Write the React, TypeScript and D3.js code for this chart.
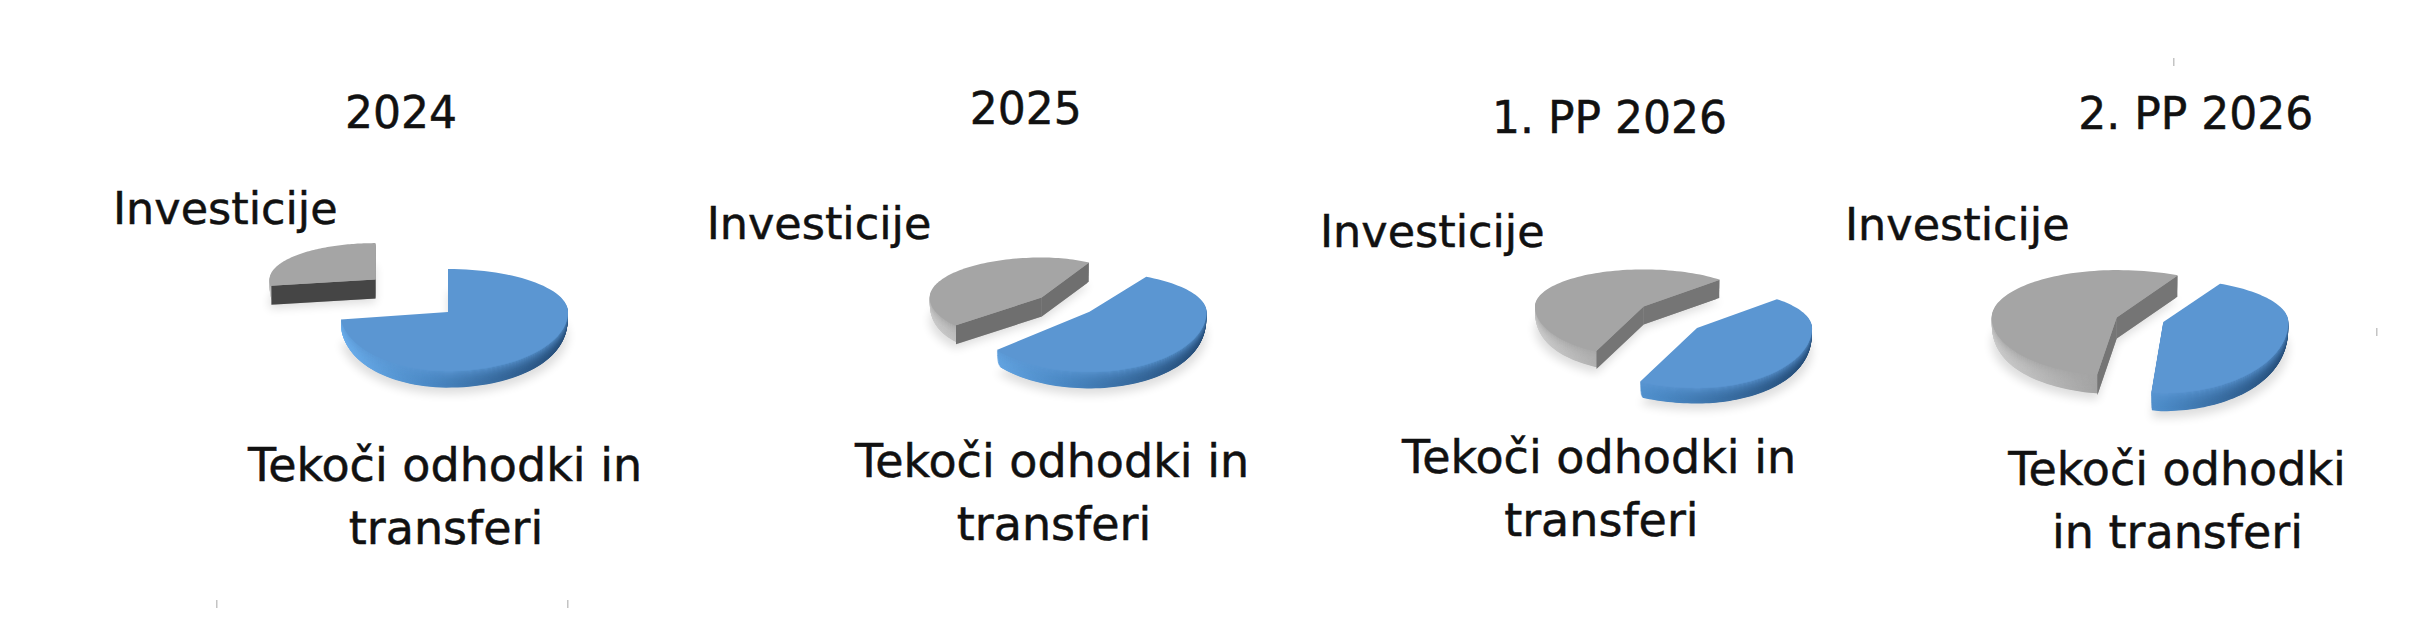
import React, { useEffect, useRef } from 'react';
import * as d3 from 'd3';

// Values (share of the budget, percent)
const years = ['2024', '2025', '1. PP 2026', '2. PP 2026'];
const categories = ['Tekoči odhodki in transferi', 'Investicije'];
const tekoci = [73, 56, 45, 45];
const investicije = [27, 44, 55, 55];

const WIDTH = 2418;
const HEIGHT = 639;
const FONT = '"DejaVu Sans", sans-serif';
const FONT_SIZE = 44;
const LABEL_SIZE = 46;

interface SliceGeom {
  cx: number;
  cy: number;
  rxL: number;
  rxR: number;
  ryBack: number;
  ryFront: number;
}

interface PieLayout {
  rotation: number;
  depth: number;
  cutColor: string;
  blue: SliceGeom;
  gray: SliceGeom;
  title: [number, number];
  inv: [number, number];
  lines: string[];
  lineX: number[];
  lineY: number[];
}

// Hand placed, one block per pie: the slices are pulled apart in the original
const layouts: PieLayout[] = [
  {
    rotation: 0,
    depth: 19,
    cutColor: '#454545',
    blue: { cx: 448, cy: 312, rxL: 108, rxR: 120, ryBack: 43, ryFront: 59 },
    gray: { cx: 375.5, cy: 279.6, rxL: 106, rxR: 100, ryBack: 36.5, ryFront: 50 },
    title: [401, 128],
    inv: [113, 223.6],
    lines: ['Tekoči odhodki in', 'transferi'],
    lineX: [445, 446],
    lineY: [481, 544],
  },
  {
    rotation: 29,
    depth: 19,
    cutColor: '#6f6f6f',
    blue: { cx: 1089.5, cy: 311.8, rxL: 120, rxR: 117, ryBack: 40, ryFront: 60 },
    gray: { cx: 1041.7, cy: 297.5, rxL: 112, rxR: 98, ryBack: 40, ryFront: 44 },
    title: [1025.8, 124],
    inv: [706.7, 238.6],
    lines: ['Tekoči odhodki in', 'transferi'],
    lineX: [1052, 1054],
    lineY: [476.8, 539.6],
  },
  {
    rotation: 44,
    depth: 18,
    cutColor: '#757575',
    blue: { cx: 1697, cy: 327.9, rxL: 130, rxR: 115, ryBack: 40, ryFront: 60 },
    gray: { cx: 1643.6, cy: 306.4, rxL: 108.6, rxR: 110, ryBack: 37, ryFront: 50 },
    title: [1609.6, 133],
    inv: [1320, 246.8],
    lines: ['Tekoči odhodki in', 'transferi'],
    lineX: [1599, 1601.4],
    lineY: [472.5, 535.7],
  },
  {
    rotation: 27,
    depth: 21,
    cutColor: '#757575',
    blue: { cx: 2163.3, cy: 322, rxL: 76, rxR: 125, ryBack: 43, ryFront: 71 },
    gray: { cx: 2116.7, cy: 317.5, rxL: 125, rxR: 135, ryBack: 47.4, ryFront: 58 },
    title: [2195.7, 128.8],
    inv: [1845, 239.8],
    lines: ['Tekoči odhodki', 'in transferi'],
    lineX: [2177, 2177.5],
    lineY: [484.7, 547.6],
  },
];

// Small scan marks left in the source image
const specks: [number, number][] = [[216, 600], [567, 600], [2173, 58], [2376, 328]];

const faceColors = { blue: '#5b96d2', gray: '#a5a5a5' };
const rimStops = {
  blue: ['#6db0ee', '#4a88c4', '#234a75'],
  gray: ['#cdcdcd', '#a4a4a4', '#767676'],
};

const project = (g: SliceGeom, a: number, r = 1): [number, number] => {
  const s = Math.sin(a);
  const c = Math.cos(a);
  return [
    g.cx + (s >= 0 ? g.rxR : g.rxL) * s * r,
    g.cy - (c >= 0 ? g.ryBack : g.ryFront) * c * r,
  ];
};

const line = d3.line<[number, number]>();

const slicePath = (g: SliceGeom, a0: number, a1: number, r = 1) => {
  const n = 90;
  const rim = d3.range(n + 1).map(i => project(g, a0 + ((a1 - a0) * i) / n, r));
  return line([[g.cx, g.cy], ...rim]) + 'Z';
};

const App: React.FC = () => {
  const ref = useRef<SVGSVGElement>(null);

  useEffect(() => {
    if (!ref.current) return;
    const svg = d3.select(ref.current);
    svg.selectAll('*').remove();

    const defs = svg.append('defs');
    defs.append('filter').attr('id', 'soft')
      .attr('x', '-20%').attr('y', '-20%').attr('width', '140%').attr('height', '140%')
      .append('feGaussianBlur').attr('stdDeviation', 5);

    years.forEach((year, p) => {
      const lay = layouts[p];
      const pie = d3.pie<number>().sort(null)
        .startAngle((lay.rotation * Math.PI) / 180)
        .endAngle(((lay.rotation + 360) * Math.PI) / 180);
      const arcs = pie([tekoci[p], investicije[p]]);

      (['blue', 'gray'] as const).forEach((key, i) => {
        const g = lay[key];
        const { startAngle: a0, endAngle: a1 } = arcs[i];
        const group = svg.append('g').attr('class', `slice-${key}`);

        // Rim gradient runs left to right across the slice
        const gradId = `rim-${p}-${key}`;
        const grad = defs.append('linearGradient').attr('id', gradId)
          .attr('gradientUnits', 'userSpaceOnUse')
          .attr('x1', g.cx - g.rxL).attr('x2', g.cx + g.rxR)
          .attr('y1', 0).attr('y2', 0);
        rimStops[key].forEach((c, j) => {
          grad.append('stop').attr('offset', [0, 0.4, 1][j]).attr('stop-color', c);
        });

        // Soft shadow under the slice
        group.append('path')
          .attr('d', slicePath(g, a0, a1))
          .attr('transform', `translate(0,${lay.depth + 4})`)
          .attr('fill', '#000')
          .attr('opacity', 0.13)
          .attr('filter', 'url(#soft)');

        // Extrusion, bottom layer first, blending into the face near the top
        for (let k = lay.depth; k >= 1; k--) {
          const t = k / lay.depth;
          const d = slicePath(g, a0, a1, 1 - 0.04 * Math.pow(t, 4));
          group.append('path').attr('d', d)
            .attr('transform', `translate(0,${k})`)
            .attr('fill', `url(#${gradId})`);
          group.append('path').attr('d', d)
            .attr('transform', `translate(0,${k})`)
            .attr('fill', faceColors[key])
            .attr('opacity', Math.pow(1 - t, 3));
        }

        // Cut faces, only the ones turned to the viewer
        const center: [number, number] = [g.cx, g.cy];
        const faces = [
          { angle: a0, show: Math.sin(a0) < -0.01 },
          { angle: a1, show: Math.sin(a1) > 0.01 },
        ];
        faces.filter(f => f.show).forEach(f => {
          const tip = project(g, f.angle, 0.99);
          group.append('path')
            .attr('d', line([
              center,
              tip,
              [tip[0], tip[1] + lay.depth],
              [center[0], center[1] + lay.depth],
            ]) + 'Z')
            .attr('fill', key === 'gray' ? lay.cutColor : '#3f6f9f');
        });

        group.append('path')
          .attr('d', slicePath(g, a0, a1))
          .attr('fill', faceColors[key]);
      });

      const text = (s: string, x: number, y: number, anchor: string, size: number) =>
        svg.append('text')
          .attr('x', x).attr('y', y)
          .attr('text-anchor', anchor)
          .attr('font-family', FONT)
          .attr('font-size', size)
          .attr('fill', '#111')
          .attr('stroke', '#111')
          .attr('stroke-width', 0.5)
          .text(s);

      text(year, lay.title[0], lay.title[1], 'middle', FONT_SIZE);
      text(categories[1], lay.inv[0], lay.inv[1], 'start', FONT_SIZE + 0.5);
      lay.lines.forEach((s, j) => text(s, lay.lineX[j], lay.lineY[j], 'middle', LABEL_SIZE));
    });

    svg.selectAll('rect.speck').data(specks).join('rect')
      .attr('class', 'speck')
      .attr('x', d => d[0]).attr('y', d => d[1])
      .attr('width', 1.5).attr('height', 8)
      .attr('fill', '#c4c4c4');
  }, []);

  return (
    <svg
      ref={ref}
      width={WIDTH}
      height={HEIGHT}
      style={{ position: 'absolute', left: 0, top: 0, background: '#fff' }}
    />
  );
};

export default App;
